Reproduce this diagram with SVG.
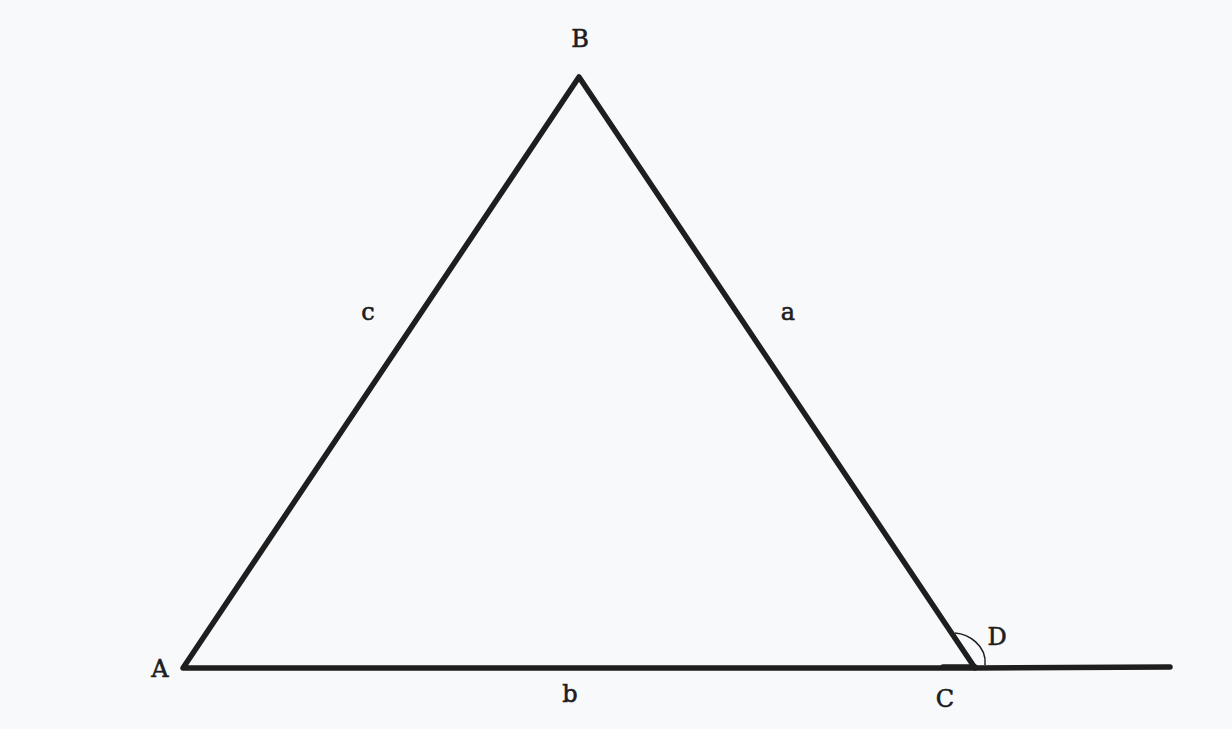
<svg xmlns="http://www.w3.org/2000/svg" width="1232" height="729" viewBox="0 0 1232 729">
<style>
.ln{stroke:#1e1e1e;stroke-width:5.5;stroke-linecap:round;stroke-linejoin:round;fill:none}
.arc{stroke:#1e1e1e;stroke-width:1.5;fill:none}
.lb{font-family:"DejaVu Serif","Liberation Serif",serif;font-size:24px;fill:#1e1e1e;stroke:#1e1e1e;stroke-width:0.6;text-anchor:middle}
</style>
<rect width="1232" height="729" fill="#f8f9fb"/>
<g id="connectors">
<path class="ln" d="M183,668 L579,77 L975,668 Z"/>
<path class="ln" d="M975,668 L1170,667"/>
<path class="ln" d="M943,667 L975,667"/>
<path class="arc" d="M955,633 C968,634 987,645 985,665"/>
</g>
<g id="node-A"><text class="lb" x="160" y="677">A</text></g>
<g id="node-B"><text class="lb" x="580" y="47">B</text></g>
<g id="node-C"><text class="lb" x="945" y="707">C</text></g>
<g id="node-D"><text class="lb" x="997" y="645">D</text></g>
<g id="label-a"><text class="lb" x="788" y="320">a</text></g>
<g id="label-b"><text class="lb" x="570" y="702">b</text></g>
<g id="label-c"><text class="lb" x="368" y="320">c</text></g>
</svg>
